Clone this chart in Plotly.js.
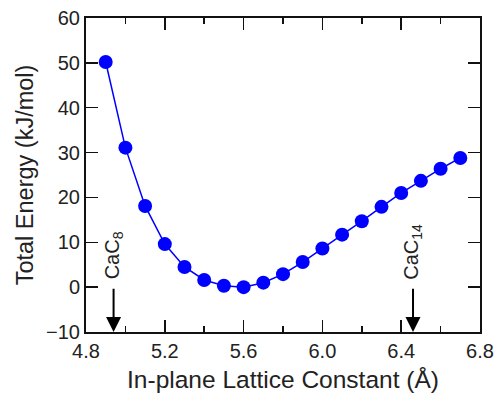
<!DOCTYPE html>
<html><head><meta charset="utf-8">
<script src="https://cdn.plot.ly/plotly-3.0.1.min.js"></script>
<style>body{margin:0;padding:0;background:#fff}#chart{width:495px;height:397px}</style>
</head><body><div id="chart"></div>
<script>
const latticeConstant = [4.9, 5.0, 5.1, 5.2, 5.3, 5.4, 5.5, 5.6, 5.7, 5.8, 5.9, 6.0, 6.1, 6.2, 6.3, 6.4, 6.5, 6.6, 6.7];
const totalEnergy = [50.2, 31.1, 18.1, 9.6, 4.5, 1.6, 0.3, 0.0, 1.0, 2.9, 5.6, 8.6, 11.7, 14.7, 17.9, 21.0, 23.7, 26.4, 28.8];
const markerNames = ['CaC<sub>8</sub>', 'CaC<sub>14</sub>'];
const markerX = [4.94, 6.46];

const font = {family: 'Liberation Sans, Arial, sans-serif', color: '#222'};
const annotations = [];
markerNames.forEach((name, i) => {
  annotations.push({x: markerX[i], y: -10, ax: markerX[i], ay: 0, xref: 'x', yref: 'y', axref: 'x', ayref: 'y',
    showarrow: true, arrowhead: 2, arrowsize: 1.5, arrowwidth: 2, arrowcolor: '#000', text: ''});
  annotations.push({x: markerX[i], y: 1.2, xref: 'x', yref: 'y', text: name, showarrow: false, textangle: -90,
    xanchor: 'center', yanchor: 'bottom', font: {...font, size: 20}});
});

const axisCommon = {showgrid: false, zeroline: false, showline: true, linecolor: '#111', linewidth: 2,
  mirror: 'ticks', ticks: 'inside', tickcolor: '#111', tickwidth: 1.5, ticklen: 12,
  tickfont: {...font, size: 20}};

Plotly.newPlot('chart', [{
  x: latticeConstant, y: totalEnergy, type: 'scatter', mode: 'lines+markers',
  line: {color: '#0000ff', width: 1.5}, marker: {color: '#0000ff', size: 14}
}], {
  width: 495, height: 397,
  margin: {l: 86, r: 15, t: 18, b: 65},
  paper_bgcolor: '#fff', plot_bgcolor: '#fff', showlegend: false,
  xaxis: {...axisCommon, range: [4.8, 6.8], dtick: 0.4, tick0: 4.8, tickformat: '.1f',
    minor: {dtick: 0.2, ticks: 'inside', ticklen: 6, tickcolor: '#111', tickwidth: 1.5},
    title: {text: 'In-plane Lattice Constant (Å)', font: {...font, size: 24.5}, standoff: 10}},
  yaxis: {...axisCommon, range: [-10, 60], dtick: 10,
    title: {text: 'Total Energy (kJ/mol)', font: {...font, size: 23.5}, standoff: 6}},
  annotations: annotations
}, {displayModeBar: false, staticPlot: true});
</script></body></html>
